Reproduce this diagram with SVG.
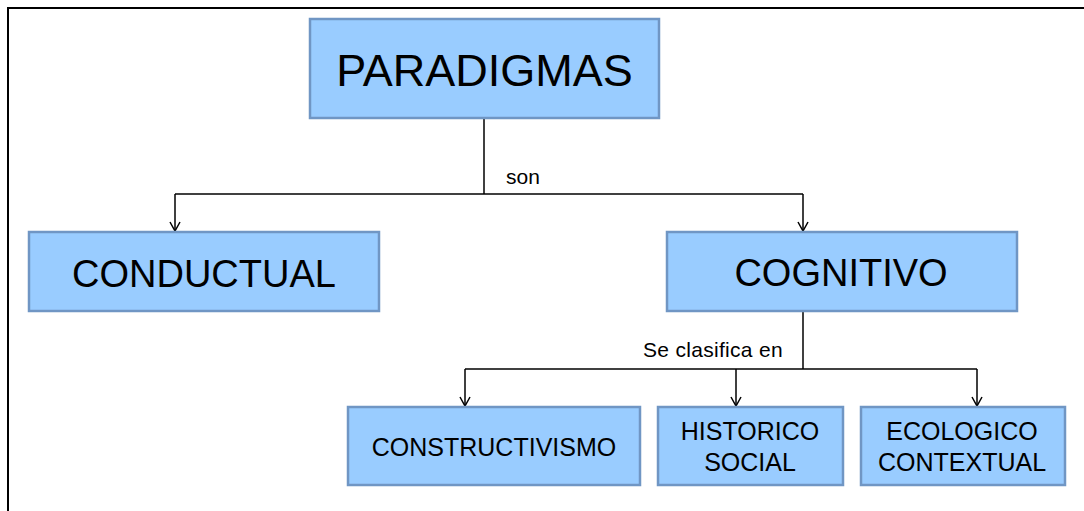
<svg xmlns="http://www.w3.org/2000/svg" width="1084" height="511" viewBox="0 0 1084 511">
<style>
.box{fill:#99CCFF;stroke:#7096C4;stroke-width:2.5}
.t{font-family:"Liberation Sans",Arial,sans-serif;fill:#000;text-anchor:middle}
.big{font-size:38px}
.mid{font-size:25px}
.lbl{font-family:"Liberation Sans",Arial,sans-serif;font-size:21px;fill:#000}
.ln{fill:none;stroke:#000;stroke-width:1.5}
</style>
<defs>
<marker id="arr" viewBox="0 0 12 12" refX="11" refY="6" markerWidth="12" markerHeight="12" markerUnits="userSpaceOnUse" orient="auto">
<path d="M2,1 L11,6 L2,11" fill="none" stroke="#000" stroke-width="1.5"/>
</marker>
</defs>
<rect x="8" y="8" width="1090" height="520" fill="#fff" stroke="#000" stroke-width="2"/>
<g id="connectors">
<path class="ln" d="M484,118 V194"/>
<path class="ln" d="M175,194 H803"/>
<path class="ln" d="M175,194 V231" marker-end="url(#arr)"/>
<path class="ln" d="M803,194 V231" marker-end="url(#arr)"/>
<text class="lbl" x="506" y="184">son</text>
<path class="ln" d="M803,311 V369"/>
<path class="ln" d="M465,369 H977"/>
<path class="ln" d="M465,369 V406" marker-end="url(#arr)"/>
<path class="ln" d="M736,369 V406" marker-end="url(#arr)"/>
<path class="ln" d="M977,369 V406" marker-end="url(#arr)"/>
<text class="lbl" x="643" y="357" letter-spacing="0.3">Se clasifica en</text>
</g>
<g id="paradigmas">
<rect class="box" x="310" y="19" width="349" height="99"/>
<text class="t" x="484.5" y="86" font-size="45">PARADIGMAS</text>
</g>
<g id="conductual">
<rect class="box" x="29" y="232" width="350" height="79"/>
<text class="t big" x="204" y="287">CONDUCTUAL</text>
</g>
<g id="cognitivo">
<rect class="box" x="667" y="232" width="350" height="79"/>
<text class="t big" x="841" y="286">COGNITIVO</text>
</g>
<g id="constructivismo">
<rect class="box" x="348" y="407" width="292" height="78"/>
<text class="t mid" x="494" y="456">CONSTRUCTIVISMO</text>
</g>
<g id="historico">
<rect class="box" x="658" y="407" width="185" height="78"/>
<text class="t mid" x="750" y="440">HISTORICO</text>
<text class="t mid" x="750" y="471">SOCIAL</text>
</g>
<g id="ecologico">
<rect class="box" x="861" y="407" width="204" height="78"/>
<text class="t mid" x="962" y="440">ECOLOGICO</text>
<text class="t mid" x="962" y="471">CONTEXTUAL</text>
</g>
</svg>
